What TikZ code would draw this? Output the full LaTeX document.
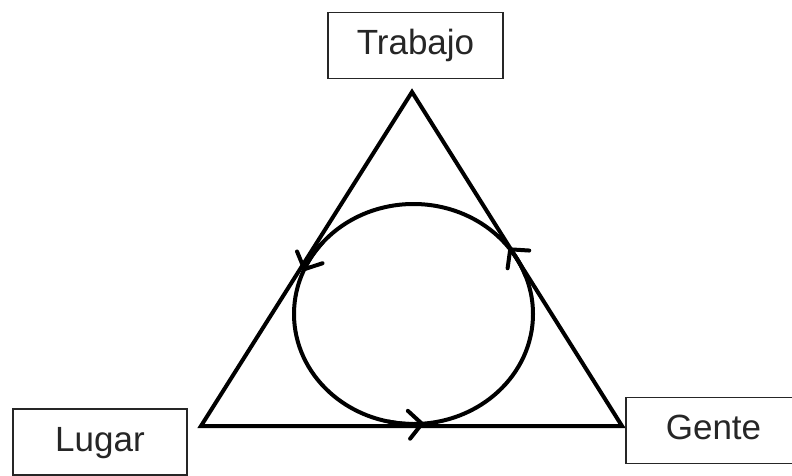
\documentclass[tikz,border=0pt]{standalone}
\usepackage{fontspec}
\setmainfont{Liberation Sans}
\usetikzlibrary{arrows.meta}
\begin{document}
\begin{tikzpicture}[x=1pt,y=1pt,
  labelbox/.style={draw=black!85,line width=1.8pt,fill=white,minimum width=175pt,minimum height=66pt,
    inner sep=0pt,text height=26pt,text depth=8pt,font=\fontsize{35}{40}\selectfont,text=black!85},
  edge/.style={line width=4pt,line join=miter},
  loopline/.style={line width=4pt,line cap=round},
  barb/.style={-{Straight Barb[length=13pt,width=28pt,line cap=round,line join=round]}}
]
\useasboundingbox (0,0) rectangle (792,475);
\clip (0,0) rectangle (792,475);
% triangle corners
\coordinate (top) at (412,383);
\coordinate (bl) at (201,49);
\coordinate (br) at (622,49);
\draw[edge] (top) -- (bl) -- (br) -- cycle;
% cycle
\coordinate (c) at (413.5,161);
\draw[loopline] (c) ++(0:119.5 and 110)
  arc[start angle=0,end angle=360,x radius=119.5,y radius=110];
\draw[loopline,barb] (c) ++(20:119.5 and 110) arc[start angle=20,end angle=37,x radius=119.5,y radius=110];
\draw[loopline,barb] (c) ++(140:119.5 and 110) arc[start angle=140,end angle=157,x radius=119.5,y radius=110];
\draw[loopline,barb] (c) ++(258:119.5 and 110) arc[start angle=258,end angle=275,x radius=119.5,y radius=110];
% boxes
\node[labelbox] (trabajo) at (415.5,429.5) {Trabajo};
\node[labelbox,minimum width=174pt] (lugar) at (100,33) {Lugar};
\node[labelbox] (gente) at (713.5,44.5) {Gente};
\end{tikzpicture}
\end{document}
